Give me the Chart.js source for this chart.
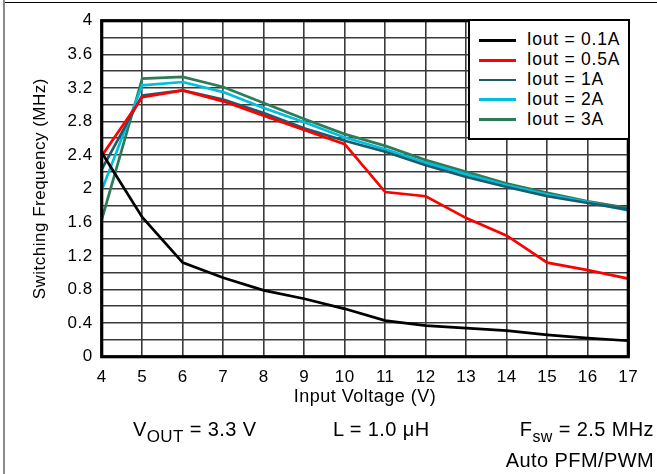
<!DOCTYPE html>
<html><head><meta charset="utf-8">
<script src="https://cdn.jsdelivr.net/npm/chart.js@4"></script>
<style>
html,body{margin:0;padding:0;background:#fff;}
#wrap{position:relative;width:657px;height:474px;overflow:hidden;font-family:'Liberation Sans',Arial,sans-serif;color:#000;background:#fff;}
#c{position:absolute;left:0;top:0;}
.t{position:absolute;white-space:nowrap;line-height:1;}
.ann{font-size:20px;letter-spacing:0.4px;}
.sub{position:relative;top:5.7px;}
</style></head><body>
<div id="wrap">
<canvas id="c" width="657" height="474"></canvas>
<div style="position:absolute;left:3px;top:0;width:2px;height:474px;background:#8a8a8a;"></div>
<div style="position:absolute;left:5px;top:2px;width:652px;height:1.2px;background:#000;"></div>
<div id="legend"></div>
<div class="t ann" style="left:133px;top:419px;">V<span class="sub" style="font-size:17px;">OUT</span> = 3.3 V</div>
<div class="t ann" style="left:333px;top:419px;">L = 1.0 μH</div>
<div class="t ann" style="right:3px;top:419px;">F<span class="sub" style="font-size:16px;">sw</span> = 2.5 MHz</div>
<div class="t ann" style="right:3px;top:449.8px;">Auto PFM/PWM</div>
</div>
<script>
const xValues = [4, 5, 6, 7, 8, 9, 10, 11, 12, 13, 14, 15, 16, 17];
const xTickLabels = ['4','5','6','7','8','9','10','11','12','13','14','15','16','17'];
const yTickLabels = ['0','0.4','0.8','1.2','1.6','2','2.4','2.8','3.2','3.6','4'];
const seriesLabels = ['Iout = 0.1A', 'Iout = 0.5A', 'Iout = 1A', 'Iout = 2A', 'Iout = 3A'];
const seriesColors = ['#000000', '#ff0000', '#1b5b6d', '#00bfdc', '#2e7b5a'];
const iout01 = [2.43, 1.66, 1.12, 0.94, 0.79, 0.69, 0.57, 0.43, 0.37, 0.34, 0.31, 0.26, 0.22, 0.19];
const iout05 = [2.39, 3.09, 3.17, 3.04, 2.87, 2.70, 2.53, 1.96, 1.91, 1.65, 1.44, 1.12, 1.03, 0.93];
const iout1  = [2.23, 3.11, 3.17, 3.06, 2.90, 2.72, 2.57, 2.44, 2.28, 2.14, 2.02, 1.91, 1.83, 1.75];
const iout2  = [1.98, 3.23, 3.27, 3.15, 2.96, 2.79, 2.61, 2.47, 2.31, 2.17, 2.04, 1.93, 1.84, 1.74];
const iout3  = [1.63, 3.31, 3.33, 3.21, 3.02, 2.83, 2.65, 2.51, 2.34, 2.20, 2.06, 1.95, 1.85, 1.77];
const seriesValues = [iout01, iout05, iout1, iout2, iout3];

const FONT = "'Liberation Sans', Arial, sans-serif";

const datasets = seriesValues.map((vals, i) => ({
  label: seriesLabels[i],
  data: vals.map((v, j) => ({x: xValues[j], y: v})),
  borderColor: seriesColors[i],
  backgroundColor: seriesColors[i],
  borderWidth: 2.7,
  pointRadius: 0,
  tension: 0,
  fill: false
}));

const spacingPlugin = { id: 'spacing', beforeDraw(c) { c.ctx.letterSpacing = '0.5px'; } };
const framePlugin = {
  id: 'frame',
  afterDraw(c) {
    const {ctx, chartArea: a} = c;
    ctx.save();
    ctx.strokeStyle = '#000';
    ctx.lineWidth = 3.2;
    ctx.strokeRect(a.left, a.top, a.right - a.left, a.bottom - a.top);
    ctx.restore();
  }
};

new Chart(document.getElementById('c'), {
  type: 'line',
  data: { datasets },
  options: {
    responsive: false,
    animation: false,
    devicePixelRatio: 1,
    layout: { padding: { left: 0, top: 20.7, right: 28.7, bottom: 66.3 } },
    plugins: { legend: { display: false }, tooltip: { enabled: false } },
    scales: {
      x: {
        type: 'linear', min: 4, max: 17,
        afterFit: s => { s.height = 51; },
        grid: { color: '#3a3a3a', lineWidth: 1.6, drawTicks: false },
        border: { display: false },
        ticks: {
          stepSize: 1, padding: 10, color: '#000', maxRotation: 0, autoSkip: false,
          font: { family: FONT, size: 17 },
          callback: v => { const i = xValues.indexOf(v); return i >= 0 ? xTickLabels[i] : ''; }
        },
        title: { display: true, text: 'Input Voltage (V)', color: '#000', padding: 0, font: { family: FONT, size: 18 } }
      },
      y: {
        type: 'linear', min: 0, max: 4,
        afterFit: s => { s.width = 101.7; },
        grid: { color: '#3a3a3a', lineWidth: 1.6, drawTicks: false },
        border: { display: false },
        ticks: {
          stepSize: 0.2, padding: 9, color: '#000', autoSkip: false,
          font: { family: FONT, size: 17 },
          callback: v => { const k = Math.round(v * 10); return k % 4 === 0 ? yTickLabels[k / 4] : ''; }
        },
        title: { display: true, text: 'Switching Frequency (MHz)', color: '#000', padding: { top: 29.8, bottom: 0 }, font: { family: FONT, size: 17 } }
      }
    }
  },
  plugins: [spacingPlugin, framePlugin]
});

// legend built from series arrays
const lg = document.getElementById('legend');
const box = document.createElement('div');
box.style.cssText = 'position:absolute;left:468.3px;top:19.3px;width:161.7px;height:120.7px;box-sizing:border-box;border:2.6px solid #000;background:#fff;';
lg.appendChild(box);
seriesLabels.forEach((lab, i) => {
  const ln = document.createElement('div');
  ln.style.cssText = `position:absolute;left:479.3px;top:${40.7 + 19.7 * i - 1.35}px;width:36.7px;height:2.7px;background:${seriesColors[i]};`;
  lg.appendChild(ln);
  const tx = document.createElement('div');
  tx.className = 't';
  tx.style.cssText += `left:526.7px;top:${30.8 + 20 * i}px;font-size:17.5px;letter-spacing:0.75px;`;
  tx.textContent = lab;
  lg.appendChild(tx);
});
</script>
</body></html>
